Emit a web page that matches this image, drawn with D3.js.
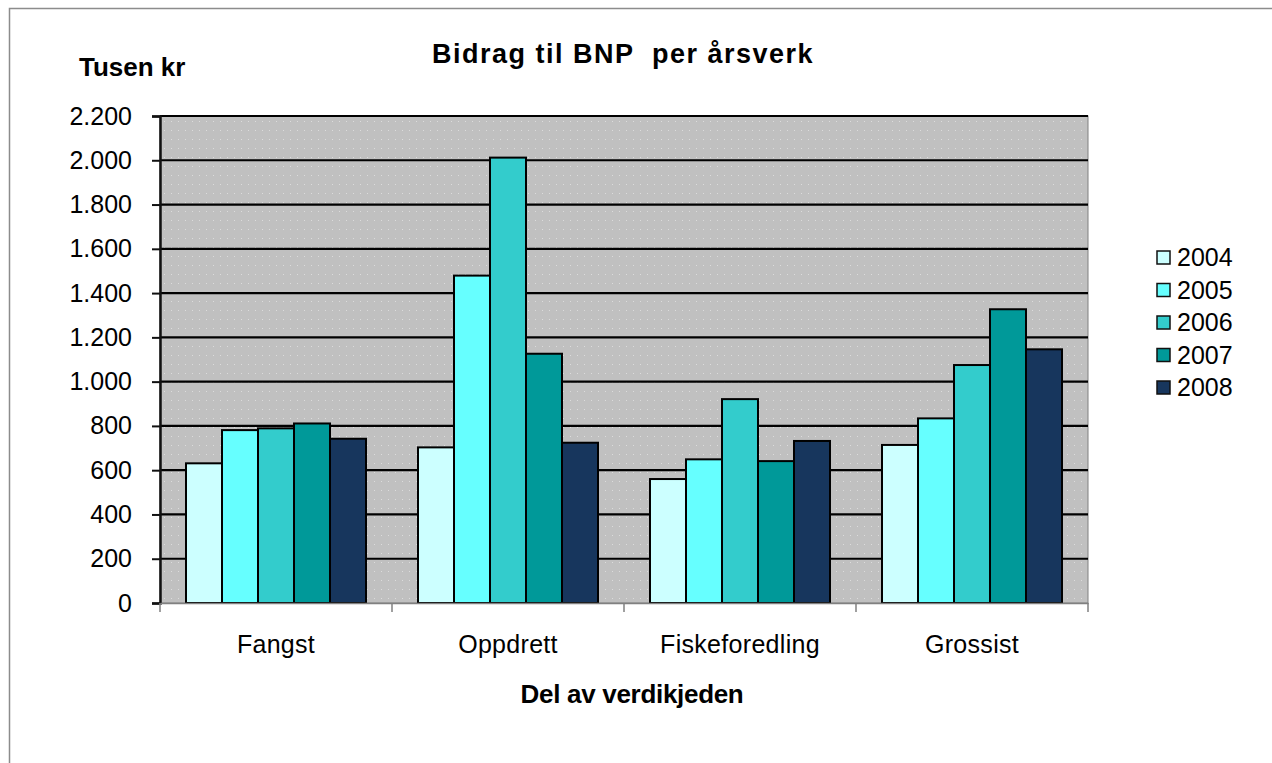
<!DOCTYPE html>
<html>
<head>
<meta charset="utf-8">
<script src="https://cdn.jsdelivr.net/npm/d3@7"></script>
<style>
  body { margin: 0; background: #fff; }
  text { font-family: "Liberation Sans", Arial, sans-serif; fill: #000; }
</style>
</head>
<body>
<div id="chart"></div>
<script>
var w = 1272;
var h = 763;

// data
var categories = ['Fangst', 'Oppdrett', 'Fiskeforedling', 'Grossist'];
var years = ['2004', '2005', '2006', '2007', '2008'];
var v2004 = [631, 703, 560, 714];
var v2005 = [781, 1479, 649, 834];
var v2006 = [789, 2012, 921, 1075];
var v2007 = [811, 1126, 641, 1327];
var v2008 = [742, 724, 732, 1146];
var yTicks = [0, 200, 400, 600, 800, 1000, 1200, 1400, 1600, 1800, 2000, 2200];
var colors = ['#ccffff', '#66ffff', '#33cccc', '#009999', '#17365d'];

var seriesVals = [v2004, v2005, v2006, v2007, v2008];

var pLeft = 160, pRight = 1088, pTop = 116, pBottom = 603;

var nor = d3.formatLocale({ decimal: ',', thousands: '.', grouping: [3], currency: ['', ' kr'] });
var fmt = nor.format(',');

var svg = d3.select('#chart').append('svg')
  .attr('width', w)
  .attr('height', h);

// outer frame
svg.append('rect')
  .attr('x', 9.5).attr('y', 8.5)
  .attr('width', 1300).attr('height', 800)
  .attr('fill', '#fff')
  .attr('stroke', '#8c8c8c')
  .attr('stroke-width', 1.5);

// dotted grey background
var defs = svg.append('defs');
var pat = defs.append('pattern')
  .attr('id', 'dots')
  .attr('patternUnits', 'userSpaceOnUse')
  .attr('width', 7).attr('height', 9);
pat.append('rect').attr('width', 7).attr('height', 9).attr('fill', '#c0c0c0');
pat.append('rect').attr('x', 3).attr('y', 4).attr('width', 1).attr('height', 1).attr('fill', '#dcdcdc');

var x = d3.scaleBand()
  .domain(categories)
  .range([pLeft, pRight]);

var x1 = d3.scaleBand()
  .domain(years)
  .range([26, x.bandwidth() - 26]);

var y = d3.scaleLinear()
  .domain([0, 2200])
  .range([pBottom, pTop]);

svg.append('rect')
  .attr('x', pLeft).attr('y', pTop)
  .attr('width', pRight - pLeft).attr('height', pBottom - pTop)
  .attr('fill', 'url(#dots)')
  .attr('stroke', '#808080')
  .attr('stroke-width', 1);

// gridlines
svg.append('g')
  .selectAll('line')
  .data(yTicks.filter(function (d) { return d > 0; }))
  .enter()
  .append('line')
  .attr('x1', pLeft).attr('x2', pRight)
  .attr('y1', function (d) { return y(d); })
  .attr('y2', function (d) { return y(d); })
  .attr('stroke', '#000')
  .attr('stroke-width', 2.2);

// bars
var groups = svg.append('g')
  .selectAll('g')
  .data(categories)
  .enter()
  .append('g')
  .attr('transform', function (d) { return 'translate(' + x(d) + ',0)'; });

groups.selectAll('rect')
  .data(function (d, i) {
    return years.map(function (yr, j) { return { year: yr, value: seriesVals[j][i], c: colors[j] }; });
  })
  .enter()
  .append('rect')
  .attr('x', function (d) { return x1(d.year); })
  .attr('y', function (d) { return y(d.value); })
  .attr('width', x1.bandwidth())
  .attr('height', function (d) { return pBottom - y(d.value); })
  .attr('fill', function (d) { return d.c; })
  .attr('stroke', '#000')
  .attr('stroke-width', 2);

// y axis
var yAxis = d3.axisLeft(y)
  .tickValues(yTicks)
  .tickSize(8)
  .tickPadding(20)
  .tickFormat(fmt);

var ya = svg.append('g')
  .attr('transform', 'translate(' + pLeft + ',0)')
  .call(yAxis);
ya.select('.domain').attr('stroke', '#111').attr('stroke-width', 2.5);
ya.selectAll('.tick line').attr('stroke', '#111').attr('stroke-width', 2);
ya.selectAll('.tick text')
  .attr('font-size', '25px')
  .attr('font-family', '"Liberation Sans", Arial, sans-serif')
  .attr('fill', '#000');

// x axis
var xAxis = d3.axisBottom(x)
  .tickSize(0)
  .tickPadding(32);

var xa = svg.append('g')
  .attr('transform', 'translate(0,' + pBottom + ')')
  .call(xAxis);
xa.select('.domain').attr('stroke', '#808080').attr('stroke-width', 1.5);
xa.selectAll('.tick text')
  .attr('font-size', '25px')
  .attr('letter-spacing', '0.3px')
  .attr('font-family', '"Liberation Sans", Arial, sans-serif')
  .attr('fill', '#000');

// category boundary ticks
svg.append('g')
  .selectAll('line')
  .data(d3.range(categories.length + 1))
  .enter()
  .append('line')
  .attr('x1', function (d) { return pLeft + d * x.bandwidth(); })
  .attr('x2', function (d) { return pLeft + d * x.bandwidth(); })
  .attr('y1', pBottom)
  .attr('y2', pBottom + 9)
  .attr('stroke', '#808080')
  .attr('stroke-width', 1.5);

// titles
svg.append('text')
  .attr('x', 623).attr('y', 63)
  .attr('text-anchor', 'middle')
  .attr('font-size', '27px')
  .attr('font-weight', 'bold')
  .attr('letter-spacing', '1.5px')
  .attr('xml:space', 'preserve')
  .text('Bidrag til BNP  per årsverk');

svg.append('text')
  .attr('x', 79).attr('y', 76)
  .attr('font-size', '26px')
  .attr('font-weight', 'bold')
  .text('Tusen kr');

svg.append('text')
  .attr('x', 632).attr('y', 703)
  .attr('text-anchor', 'middle')
  .attr('font-size', '26px')
  .attr('font-weight', 'bold')
  .attr('letter-spacing', '-0.3px')
  .text('Del av verdikjeden');

// legend
var legend = svg.append('g')
  .selectAll('g')
  .data(years)
  .enter()
  .append('g')
  .attr('transform', function (d, i) { return 'translate(1157,' + (258 + i * 32.5) + ')'; });

legend.append('rect')
  .attr('x', 0).attr('y', -7)
  .attr('width', 13).attr('height', 13)
  .attr('fill', function (d, i) { return colors[i]; })
  .attr('stroke', '#111')
  .attr('stroke-width', 1.5);

legend.append('text')
  .attr('x', 20).attr('y', 8)
  .attr('font-size', '25px')
  .text(function (d) { return d; });
</script>
</body>
</html>
